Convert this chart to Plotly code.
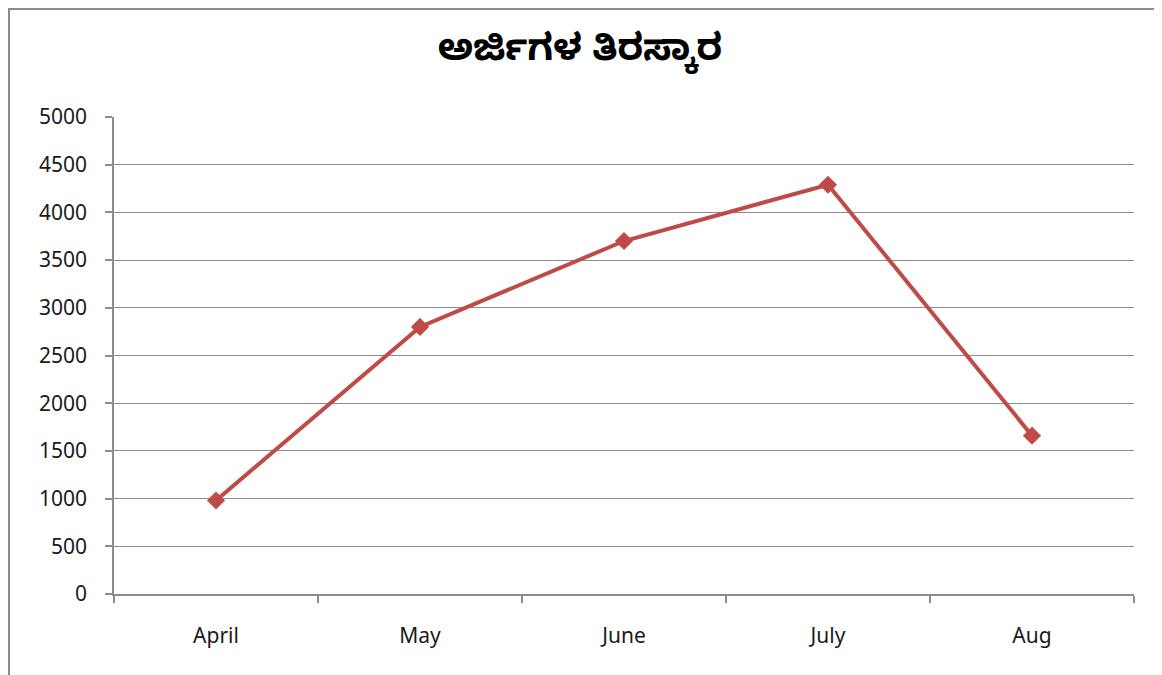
import plotly.graph_objects as go

months = ["April", "May", "June", "July", "Aug"]
rejections = [980, 2800, 3700, 4290, 1660]
y_ticks = [0, 500, 1000, 1500, 2000, 2500, 3000, 3500, 4000, 4500, 5000]
title_text = "ಅರ್ಜಿಗಳ ತಿರಸ್ಕಾರ"

fig = go.Figure()
fig.add_trace(go.Scatter(
    x=months, y=rejections, mode="lines+markers",
    line=dict(color="#BE4B48", width=4),
    marker=dict(symbol="diamond", size=14, color="#BE4B48"),
    showlegend=False,
))

# page renders the figure offset by 8px (body margin); compensate
OFF = 8
W, H = 1162, 675
L, R, T, B = 114 - OFF, 28 + OFF, 117 - OFF, 81 + OFF
pw, ph = W - L - R, H - T - B

def px(x):
    return (x - OFF - L) / pw

def py(y):
    return (H - B - (y - OFF)) / ph

fig.add_shape(type="rect", xref="paper", yref="paper",
              x0=px(9), x1=px(1160), y0=py(9), y1=py(700),
              line=dict(color="#8C8C8C", width=2), layer="below")

fig.update_layout(
    width=W, height=H,
    margin=dict(l=L, r=R, t=T, b=B),
    paper_bgcolor="white", plot_bgcolor="white",
    title=dict(text="<b>" + title_text + "</b>", x=(580 - OFF) / W, xref="container",
               y=1 - (47 - OFF) / H, yref="container",
               xanchor="center", yanchor="middle",
               font=dict(size=37, color="black", family="Noto Sans Kannada, Noto Sans, sans-serif")),
    font=dict(family="Noto Sans, Open Sans, sans-serif", size=22, color="#1a1a1a"),
)
fig.update_xaxes(
    type="category", range=[-0.5, 4.5],
    showline=True, linecolor="#8C8C8C", linewidth=1.5,
    ticks="outside", ticklen=7, tickcolor="#8C8C8C", tickwidth=1.5,
    tickson="boundaries", showgrid=False, ticklabelstandoff=22,
    tickfont=dict(size=21),
)
fig.update_yaxes(
    range=[0, 5000], tickvals=y_ticks,
    showline=True, linecolor="#8C8C8C", linewidth=1.5,
    ticks="outside", ticklen=7, tickcolor="#8C8C8C", tickwidth=1.5,
    showgrid=True, gridcolor="#8C8C8C", gridwidth=1.2,
    zeroline=False, tickfont=dict(size=21), ticklabelstandoff=14,
)

fig.write_html("out.html")
